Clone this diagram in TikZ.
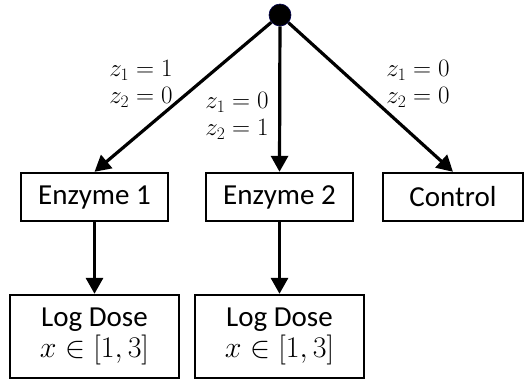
\RequirePackage{fix-cm}
\documentclass[tikz,border=0pt]{standalone}
\usepackage{fontspec}
\setmainfont{Carlito}
\usetikzlibrary{arrows.meta}
\begin{document}
\begin{tikzpicture}[x=1pt,y=-1pt,
  box/.style={draw,line width=2.4pt,inner sep=0pt,font=\fontsize{29}{31}\selectfont},
  conn/.style={line width=3.2pt,-{Triangle[length=16pt,width=17pt]}},
  lab/.style={align=center,inner sep=0pt,font=\fontsize{25}{27}\selectfont}]
\useasboundingbox (0,0) rectangle (525,381);
\node[circle,fill=black,draw=blue!30!black,line width=0.6pt,minimum size=22pt,inner sep=0pt] (root) at (280,15) {};
\node[box,minimum width=147pt,minimum height=48pt] (e1) at (94.5,197) {Enzyme 1};
\node[box,minimum width=147pt,minimum height=48pt] (e2) at (279.5,197) {Enzyme 2};
\node[box,minimum width=140pt,minimum height=48pt] (c) at (453,197) {Control};
\node[box,minimum width=169pt,minimum height=83pt,align=center] (l1) at (94.5,336.5) {Log Dose\\ {\fontsize{30}{31}\selectfont$x\in[1,3]$}};
\node[box,minimum width=169pt,minimum height=83pt,align=center] (l2) at (279.5,336.5) {Log Dose\\ {\fontsize{30}{31}\selectfont$x\in[1,3]$}};
\draw[conn] (root) -- (e1.north);
\draw[conn] (root) -- (e2.north);
\draw[conn] (root) -- (c.north);
\draw[conn] (e1) -- (l1);
\draw[conn] (e2) -- (l2);
\node[lab] (t1) at (141,84) {$z_1=1$\\$z_2=0$};
\node[lab] (t2) at (237,116) {$z_1=0$\\$z_2=1$};
\node[lab] (t3) at (418,84) {$z_1=0$\\$z_2=0$};
\end{tikzpicture}
\end{document}
